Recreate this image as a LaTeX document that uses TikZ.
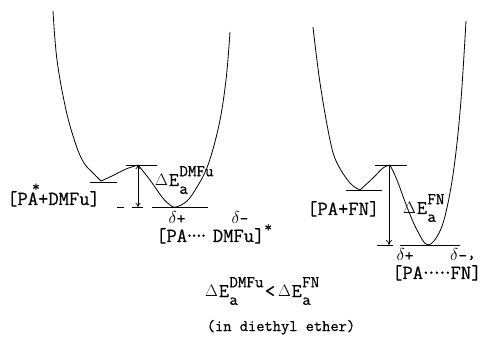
\documentclass[tikz,border=0pt]{standalone}
\usepackage{fontspec}
\setmainfont{Latin Modern Mono}[FakeBold=0.6]
\usetikzlibrary{arrows.meta}
\newcommand{\scr}[1]{\scalebox{0.85}{#1}}
\newcommand{\dE}[1]{\raisebox{0.05em}{\scalebox{0.8}{$\Delta$}}\kern0.05em E\kern0.02em\rlap{\raisebox{0.5em}{\scr{#1}}}\raisebox{-0.4em}{\scr{a}}\hphantom{\scr{#1}}\hspace{-0.45em}\hphantom{\scr{a}}}
\newcommand{\mydots}[2]{\hbox{\foreach \i in {1,...,#1}{\kern#2\raisebox{0.6ex}{.}\kern#2}}}
\begin{document}
\begin{tikzpicture}[x=1pt,y=-1pt,
  curve/.style={line width=0.8pt},
  level/.style={line width=0.8pt},
  lbl/.style={inner sep=0pt,font=\fontsize{20}{20}\selectfont},
  dlbl/.style={inner sep=0pt,font=\fontsize{17}{17}\selectfont},
  elbl/.style={inner sep=0pt,font=\fontsize{19.5}{19.5}\selectfont},
  small/.style={inner sep=0pt,font=\fontsize{16}{16}\selectfont},
  arr/.style={line width=0.7pt,-{To[length=5pt,width=6pt]}}]
\useasboundingbox (0,0) rectangle (482,339);

% left potential curve
\draw[curve] plot[smooth,tension=0.6] coordinates {(53,11) (57,60) (66,110) (76,145) (84,163) (93,173) (101,181)};
\draw[curve] plot[smooth,tension=0.6] coordinates {(101,181) (112,176) (126,169) (138,165)};
\draw[curve] plot[smooth,tension=0.6] coordinates {(138,165) (150,180) (162,197) (170,205) (176,207) (187,201) (197,187) (208,165) (219,125) (226,80) (230,32)};

% left levels
\coordinate (lmA) at (90,182);  \coordinate (lmB) at (117,182);
\coordinate (lpA) at (126,165); \coordinate (lpB) at (157,165);
\draw[level] (lmA) -- (lmB);
\draw[level] (lpA) -- (lpB);
\draw[level] (117,207) -- (124,207);
\draw[level] (132,207) -- (143,207);
\draw[level] (152,207) -- (208,207);
\coordinate (la1) at (138,165); \coordinate (la2) at (138,207);
\draw[line width=0.7pt,{To[length=4pt,width=5pt]}-{To[length=4pt,width=5pt]}] (la1) -- (la2);

% right potential curve
\draw[curve] plot[smooth,tension=0.6] coordinates {(313,27) (320,83) (330,140) (337,163) (350,183) (360,190)};
\draw[curve] plot[smooth,tension=0.6] coordinates {(360,190) (373,178) (383,168) (390,165)};
\draw[curve] plot[smooth,tension=0.6] coordinates {(390,165) (397,180) (407,207) (417,230) (428,245) (440,231) (448,203) (455,160) (461,100) (466,21)};

% right levels
\draw[level] (346,190) -- (382,190);
\draw[level] (375,165) -- (407,165);
\draw[level] (377,245) -- (393,245);
\draw[level] (400,245) -- (460,245);
\coordinate (ra1) at (389,165); \coordinate (ra2) at (389,245);
\draw[arr] (ra1) -- (ra2);

% labels left
\node[lbl,anchor=base west] (l1) at (7,205) {[PA\rlap{\raisebox{0.68em}{\kern-0.3em\scalebox{0.75}{*}}}+DMFu]};
\node[elbl,anchor=base west] (l2) at (155,186) {\dE{DMFu}};
\node[dlbl,anchor=base] (l3) at (177,224) {$\delta$+};
\node[dlbl,anchor=base] (l4) at (240,224) {$\delta$--};
\node[lbl,anchor=base west] (l5) at (156,242) {[PA\mydots{4}{-0.14em}\kern0.35em DMFu]\raisebox{0.5em}{\scalebox{0.75}{*}}};

% labels right
\node[lbl,anchor=base west] (r1) at (307,215) {[PA+FN]};
\node[elbl,anchor=base west] (r2) at (403,214) {\dE{FN}};
\node[dlbl,anchor=base] (r3) at (405,261) {$\delta$+};
\node[dlbl,anchor=base west] (r4) at (450,261) {$\delta$--\raisebox{0.2em}{,}};
\node[lbl,anchor=base west] (r5) at (392,279) {[PA\mydots{5}{-0.12em}FN]};

% bottom
\node[elbl,anchor=base west] (b1) at (205,297) {\dE{DMFu}\kern-0.35em<\kern0.15em\dE{FN}};
\node[small,anchor=base] (b2) at (281,331) {(in diethyl ether)};
\end{tikzpicture}
\end{document}
